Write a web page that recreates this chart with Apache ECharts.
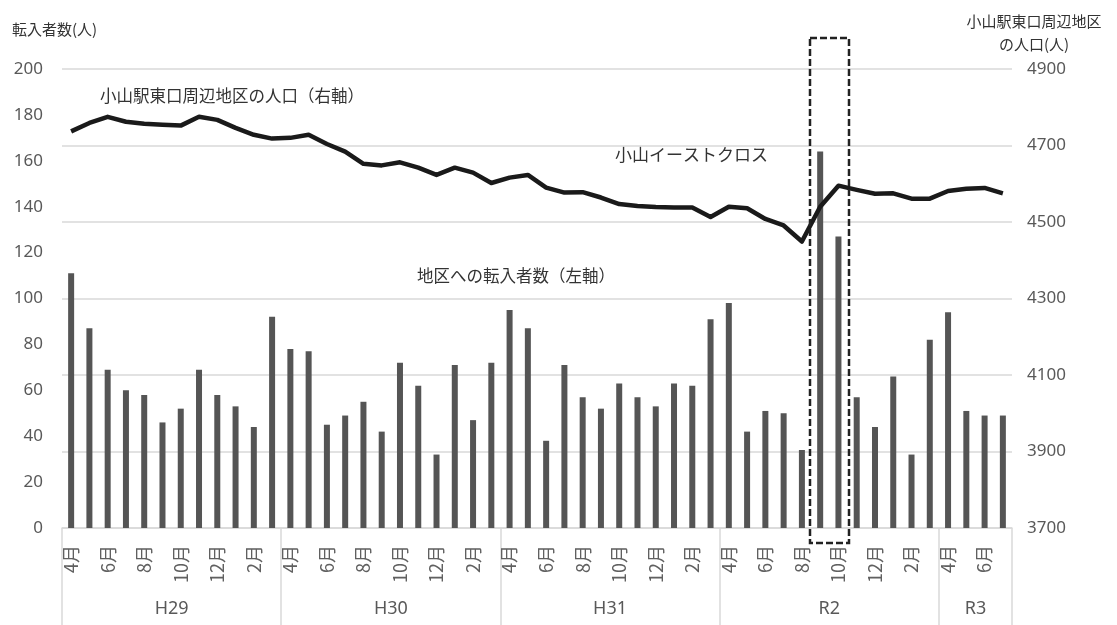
<!DOCTYPE html>
<html>
<head>
<meta charset="utf-8">
<script src="https://cdn.jsdelivr.net/npm/echarts@6/dist/echarts.min.js"></script>
<style>
html,body{margin:0;padding:0;background:#fff;}
#main{width:1117px;height:625px;}
</style>
</head>
<body>
<div id="main"></div>
<script>
// ---- data ----
const years = ['H29', 'H30', 'H31', 'R2', 'R3'];
const yearMonths = [12, 12, 12, 12, 4];
const monthNames = ['4月','5月','6月','7月','8月','9月','10月','11月','12月','1月','2月','3月'];
const inflow = [
  111, 87, 69, 60, 58, 46, 52, 69, 58, 53, 44, 92,
  78, 77, 45, 49, 55, 42, 72, 62, 32, 71, 47, 72,
  95, 87, 38, 71, 57, 52, 63, 57, 53, 63, 62, 91,
  98, 42, 51, 50, 34, 164, 127, 57, 44, 66, 32, 82,
  94, 51, 49, 49
];
const population = [
  4737, 4759, 4775, 4762, 4757, 4754, 4752, 4775, 4767, 4746, 4728, 4718,
  4720, 4728, 4704, 4684, 4652, 4648, 4656, 4642, 4623, 4642, 4629, 4602,
  4616, 4623, 4590, 4577, 4578, 4564, 4547, 4542, 4539, 4538, 4538, 4513,
  4540, 4536, 4508, 4491, 4449, 4540, 4595, 4584, 4574, 4575, 4561, 4561,
  4581, 4587, 4589, 4575
];
const leftTicks = { min: 0, max: 200, interval: 20 };
const rightTicks = { min: 3700, max: 4900, interval: 200 };

// ---- build categories ----
const categories = [];
years.forEach((y, yi) => {
  for (let m = 0; m < yearMonths[yi]; m++) categories.push(monthNames[m]);
});
const total = categories.length;
const yearAxisData = new Array(total * 2 + 1).fill('');
const boundaries = new Set();
let pos = 0;
years.forEach((y, yi) => {
  boundaries.add(pos * 2);
  yearAxisData[pos * 2 + yearMonths[yi]] = y;
  pos += yearMonths[yi];
});
boundaries.add(pos * 2);

const FONT = "'Noto Sans CJK JP', 'Noto Sans', sans-serif";
const NUMFONT = "'Noto Sans', 'Noto Sans CJK JP', sans-serif";
const chart = echarts.init(document.getElementById('main'));
chart.setOption({
  animation: false,
  backgroundColor: '#ffffff',
  textStyle: { fontFamily: FONT },
  grid: { left: 62, right: 105, top: 69, bottom: 97, containLabel: false },
  xAxis: [
    {
      type: 'category',
      data: categories,
      position: 'bottom',
      axisLine: { show: true, lineStyle: { color: '#d9d9d9', width: 1.5 } },
      axisTick: { show: false },
      axisLabel: {
        interval: 1, rotate: 90, margin: 17,
        color: '#606060',
        fontSize: 18, fontFamily: FONT
      },
      splitLine: { show: false }
    },
    {
      type: 'category',
      data: yearAxisData,
      boundaryGap: false,
      position: 'bottom',
      axisLine: { show: false },
      axisTick: {
        show: true, length: 97,
        interval: (i) => boundaries.has(i),
        lineStyle: { color: '#d9d9d9', width: 1.5 }
      },
      axisLabel: {
        interval: (i) => yearAxisData[i] !== '',
        margin: 72, fontSize: 18, color: '#595959', fontFamily: NUMFONT
      },
      splitLine: { show: false }
    }
  ],
  yAxis: [
    {
      type: 'value',
      min: leftTicks.min, max: leftTicks.max, interval: leftTicks.interval,
      axisLine: { show: false }, axisTick: { show: false },
      splitLine: { show: false },
      axisLabel: { margin: 19, fontSize: 17, color: '#595959', fontFamily: NUMFONT,
                   formatter: (v) => String(v) }
    },
    {
      type: 'value',
      min: rightTicks.min, max: rightTicks.max, interval: rightTicks.interval,
      position: 'right',
      axisLine: { show: false }, axisTick: { show: false },
      splitLine: { show: true, lineStyle: { color: '#d9d9d9', width: 1.5 } },
      axisLabel: { margin: 15, fontSize: 17, color: '#595959', fontFamily: NUMFONT,
                   formatter: (v) => String(v) }
    }
  ],
  series: [
    {
      name: '地区への転入者数',
      type: 'bar',
      xAxisIndex: 0, yAxisIndex: 0,
      data: inflow,
      barWidth: 6,
      itemStyle: { color: '#555555' }
    },
    {
      name: '小山駅東口周辺地区の人口',
      type: 'line',
      xAxisIndex: 0, yAxisIndex: 1,
      data: population,
      symbol: 'none',
      lineStyle: { color: '#1a1a1a', width: 4.5, join: 'round' },
      z: 5
    }
  ],
  graphic: [
    { type: 'text', left: 12, top: 22,
      style: { text: '転入者数(人)', font: "15px " + FONT, fill: '#333' } },
    { type: 'text', x: 1034, y: 10,
      style: { text: '小山駅東口周辺地区\nの人口(人)', font: "15px " + FONT, fill: '#333',
               align: 'center', lineHeight: 23 } },
    { type: 'text', x: 100, y: 87,
      style: { text: '小山駅東口周辺地区の人口（右軸）', font: "16.5px " + FONT, fill: '#333' } },
    { type: 'text', x: 417, y: 267,
      style: { text: '地区への転入者数（左軸）', font: "16.5px " + FONT, fill: '#333' } },
    { type: 'text', x: 615, y: 146,
      style: { text: '小山イーストクロス', font: "17px " + FONT, fill: '#333' } },
    { type: 'rect', z: 100,
      shape: { x: 810, y: 38, width: 39, height: 505 },
      style: { fill: 'none', stroke: '#222', lineWidth: 2.5, lineDash: [7, 3] } }
  ]
});
</script>
</body>
</html>
